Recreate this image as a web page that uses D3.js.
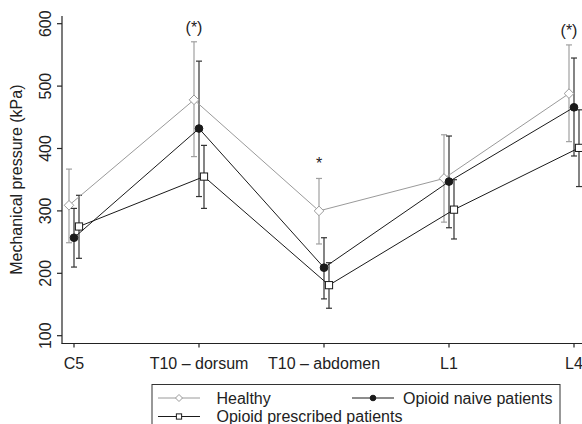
<!DOCTYPE html>
<html>
<head>
<meta charset="utf-8">
<script src="https://cdn.jsdelivr.net/npm/d3@7"></script>
<style>
  body { margin: 0; background: #fff; }
  text { font-family: "Liberation Sans", Arial, sans-serif; fill: #222; }
</style>
</head>
<body>
<div id="chart"></div>
<script>
var categories = ["C5", "T10 \u2013 dorsum", "T10 \u2013 abdomen", "L1", "L4"];
var yTicks = [100, 200, 300, 400, 500, 600];

var healthyMean  = [309, 478, 300, 352, 488];
var healthyUpper = [367, 571, 352, 422, 566];
var healthyLower = [249, 387, 247, 282, 411];

var naiveMean  = [257, 432, 209, 347, 466];
var naiveUpper = [304, 540, 257, 420, 545];
var naiveLower = [210, 323, 159, 273, 388];

var prescribedMean  = [275, 355, 181, 302, 401];
var prescribedUpper = [325, 405, 217, 350, 462];
var prescribedLower = [224, 304, 144, 255, 339];

// significance marks, drawn above the healthy error bar
var marks = ["", "(*)", "*", "", "(*)"];

var width = 582, height = 424;

var svg = d3.select("#chart").append("svg")
    .attr("width", width)
    .attr("height", height);

var x = d3.scalePoint().domain(categories).range([74, 574]);
var y = d3.scaleLinear().domain([100, 600]).range([335.7, 23.7]);

// axes
var yAxis = svg.append("g").attr("transform", "translate(62,0)");
yAxis.append("line").attr("x1", 0).attr("x2", 0).attr("y1", 16).attr("y2", 343.5)
    .attr("stroke", "#222").attr("stroke-width", 1.2);
yAxis.selectAll(".tick").data(yTicks).enter().append("line")
    .attr("x1", -5).attr("x2", 0)
    .attr("y1", function (d) { return y(d); })
    .attr("y2", function (d) { return y(d); })
    .attr("stroke", "#222").attr("stroke-width", 1.2);
yAxis.selectAll("text").data(yTicks).enter().append("text")
    .attr("transform", function (d) { return "translate(-11.5," + y(d) + ") rotate(-90)"; })
    .attr("text-anchor", "middle")
    .style("font-size", "16px")
    .text(function (d) { return d; });

svg.append("text")
    .attr("transform", "translate(21.5," + ((y(100) + y(600)) / 2) + ") rotate(-90)")
    .attr("text-anchor", "middle")
    .style("font-size", "16px")
    .text("Mechanical pressure (kPa)");

var xAxis = svg.append("g").attr("transform", "translate(0,343.5)");
xAxis.append("line").attr("x1", 61.4).attr("x2", width).attr("y1", 0).attr("y2", 0)
    .attr("stroke", "#222").attr("stroke-width", 1.2);
xAxis.selectAll(".tick").data(categories).enter().append("line")
    .attr("x1", function (d) { return x(d); })
    .attr("x2", function (d) { return x(d); })
    .attr("y1", 0).attr("y2", 4)
    .attr("stroke", "#222").attr("stroke-width", 1.2);
xAxis.selectAll("text").data(categories).enter().append("text")
    .attr("x", function (d) { return x(d); })
    .attr("y", 25)
    .attr("text-anchor", "middle")
    .style("font-size", "16px")
    .text(function (d) { return d; });

var series = [
    { name: "Healthy", mean: healthyMean, upper: healthyUpper, lower: healthyLower,
      dx: -5, color: "#9a9a9a", bar: "#a0a0a0", marker: "diamond" },
    { name: "Opioid naive patients", mean: naiveMean, upper: naiveUpper, lower: naiveLower,
      dx: 0, color: "#1a1a1a", bar: "#333", marker: "circle" },
    { name: "Opioid prescribed patients", mean: prescribedMean, upper: prescribedUpper, lower: prescribedLower,
      dx: 5, color: "#1a1a1a", bar: "#333", marker: "square" }
];

function drawMarker(g, kind, cx, cy, size, color) {
    if (kind == "diamond") {
        g.append("path")
            .attr("d", "M" + cx + "," + (cy - size) + "L" + (cx + size) + "," + cy +
                "L" + cx + "," + (cy + size) + "L" + (cx - size) + "," + cy + "Z")
            .attr("fill", "#fff").attr("stroke", color).attr("stroke-width", 1);
    } else if (kind == "circle") {
        g.append("circle").attr("cx", cx).attr("cy", cy).attr("r", size * 0.8)
            .attr("fill", color).attr("stroke", color);
    } else {
        var s = size * 0.75;
        g.append("rect").attr("x", cx - s).attr("y", cy - s)
            .attr("width", 2 * s).attr("height", 2 * s)
            .attr("fill", "#fff").attr("stroke", color).attr("stroke-width", 1);
    }
}

var plot = svg.append("g");

// error bars first, then lines, then markers
series.forEach(function (s) {
    var g = plot.append("g");
    categories.forEach(function (c, i) {
        var cx = x(c) + s.dx;
        g.append("line").attr("x1", cx).attr("x2", cx)
            .attr("y1", y(s.upper[i])).attr("y2", y(s.lower[i]))
            .attr("stroke", s.bar).attr("stroke-width", 1.2);
        [s.upper[i], s.lower[i]].forEach(function (v) {
            g.append("line").attr("x1", cx - 3).attr("x2", cx + 3)
                .attr("y1", y(v)).attr("y2", y(v))
                .attr("stroke", s.bar).attr("stroke-width", 1.2);
        });
    });
});

series.forEach(function (s) {
    var line = d3.line()
        .x(function (d, i) { return x(categories[i]) + s.dx; })
        .y(function (d) { return y(d); });
    plot.append("path").datum(s.mean)
        .attr("d", line)
        .attr("fill", "none")
        .attr("stroke", s.color)
        .attr("stroke-width", 1);
});

series.forEach(function (s) {
    var g = plot.append("g");
    s.mean.forEach(function (v, i) {
        drawMarker(g, s.marker, x(categories[i]) + s.dx, y(v), 4.8, s.color);
    });
});

svg.selectAll(".mark").data(marks).enter().append("text")
    .attr("x", function (d, i) { return x(categories[i]) + series[0].dx; })
    .attr("y", function (d, i) { return y(healthyUpper[i]) - 9; })
    .attr("text-anchor", "middle")
    .style("font-size", "16px")
    .text(function (d) { return d; });

// legend
var legend = svg.append("g");
legend.append("rect")
    .attr("x", 152).attr("y", 384.5)
    .attr("width", 408).attr("height", 60)
    .attr("fill", "#fff").attr("stroke", "#333").attr("stroke-width", 1);

var legendPos = [
    { x: 158, y: 398 },
    { x: 352, y: 398 },
    { x: 158, y: 416.5 }
];
series.forEach(function (s, i) {
    var p = legendPos[i];
    legend.append("line").attr("x1", p.x).attr("x2", p.x + 42)
        .attr("y1", p.y).attr("y2", p.y)
        .attr("stroke", s.color).attr("stroke-width", 1);
    drawMarker(legend, s.marker, p.x + 21, p.y, 3.5, s.color);
    legend.append("text")
        .attr("x", p.x + (i == 1 ? 51 : 58.5))
        .attr("y", p.y)
        .attr("dy", "0.35em")
        .style("font-size", "16px")
        .text(s.name);
});
</script>
</body>
</html>
